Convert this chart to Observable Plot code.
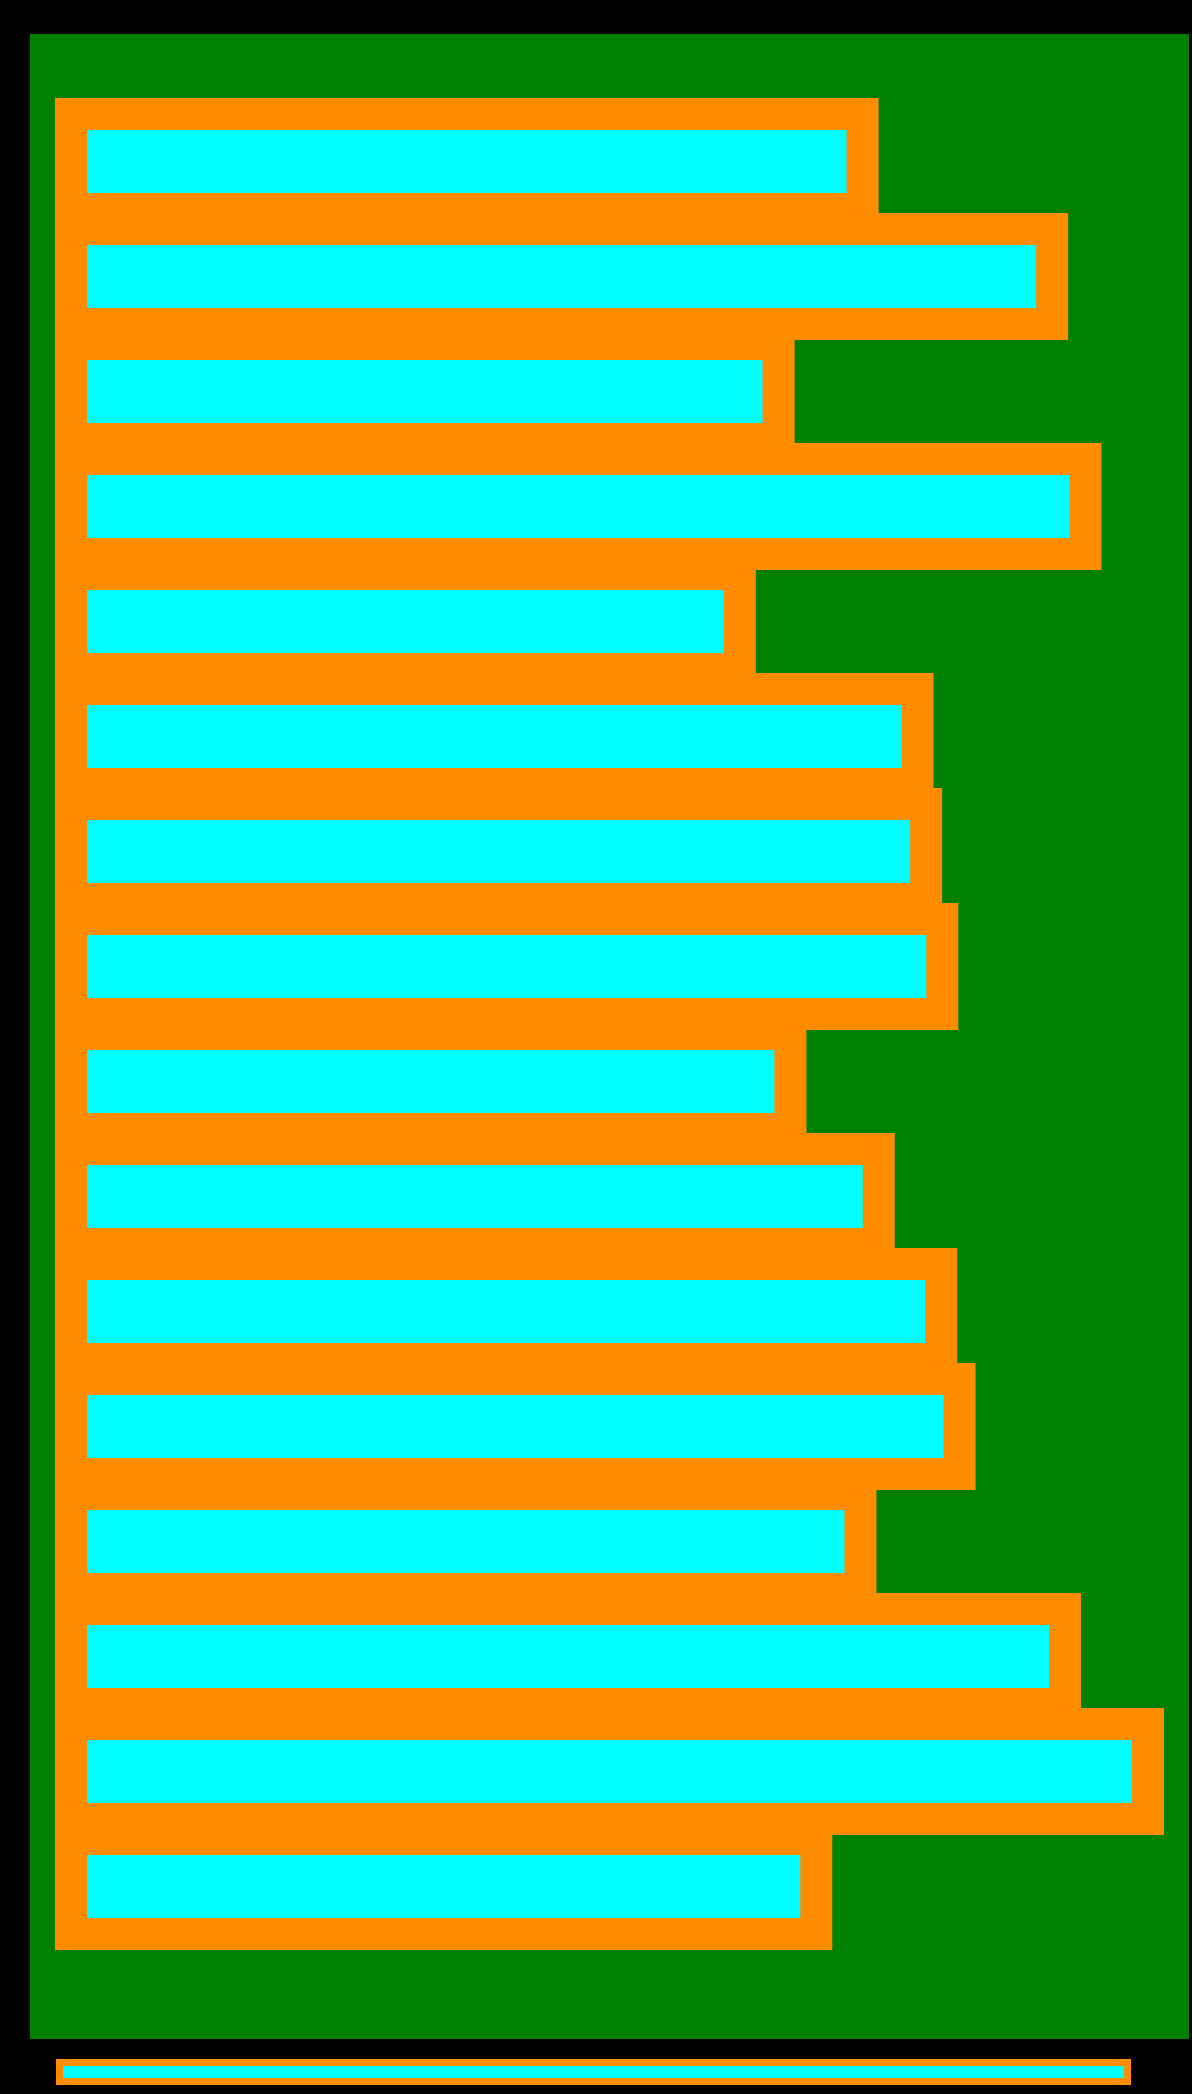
<!DOCTYPE html>
<html>
<head>
<meta charset="utf-8">
<script src="https://cdn.jsdelivr.net/npm/d3@7"></script>
<script src="https://cdn.jsdelivr.net/npm/@observablehq/plot@0.6"></script>
<style>
  html, body { margin: 0; padding: 0; background: #000; }
  #wrap { padding: 34px 0 0 30px; }
  #wrap svg { display: block; }
  #cap {
    margin: 20px 0 0 26px;
    width: 1061px;
    height: 12px;
    border: 7px solid darkorange;
    background: cyan;
    box-sizing: content-box;
  }
</style>
</head>
<body>
<div id="wrap"></div>
<script>
const categories = ["A","B","C","D","E","F","G","H","I","J","K","L","M","N","O","P"];
const values = [73.5, 91.1, 65.7, 94.2, 62.1, 78.6, 79.4, 80.9, 66.8, 75.0, 80.8, 82.5, 73.3, 92.3, 100, 69.2];

const data = categories.map((c, i) => ({category: c, value: values[i]}));

const chart = Plot.plot({
  width: 1159,
  height: 2005,
  marginLeft: 41,
  marginRight: 41,
  marginTop: 60,
  marginBottom: 85,
  style: {background: "green"},
  x: {domain: [0, 100], axis: null},
  y: {domain: categories, padding: 20 / 115, axis: null},
  marks: [
    Plot.barX(data, {
      x: "value",
      y: "category",
      fill: "cyan",
      stroke: "darkorange",
      strokeWidth: 32
    })
  ]
});

const wrap = document.getElementById("wrap");
wrap.appendChild(chart);
const cap = document.createElement("div");
cap.id = "cap";
wrap.appendChild(cap);
</script>
</body>
</html>
